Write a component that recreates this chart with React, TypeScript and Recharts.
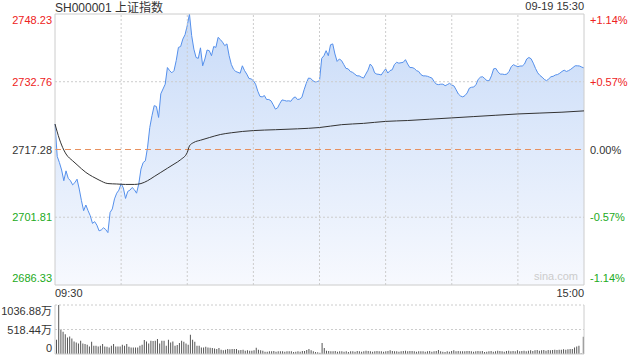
import React from 'react';
import { ComposedChart, Area, Line, XAxis, YAxis, ReferenceLine, BarChart, Bar } from 'recharts';

// minute prices 09:30 -> 15:00 (241 points)
const prices = [
  2723.10, 2715.70, 2714.30, 2712.60, 2710.15, 2712.40, 2710.70, 2710.15, 2709.20, 2709.70,
  2710.50, 2708.25, 2705.60, 2703.30, 2704.60, 2703.30, 2702.15, 2700.40, 2700.80, 2700.00,
  2698.70, 2698.90, 2699.40, 2699.00, 2698.30, 2702.90, 2703.70, 2706.00, 2707.30, 2708.00,
  2709.50, 2708.50, 2706.10, 2707.70, 2708.00, 2708.60, 2708.10, 2707.30, 2709.40, 2712.80,
  2714.30, 2714.70, 2717.80, 2722.30, 2725.00, 2727.30, 2727.10, 2724.60, 2730.00, 2731.10,
  2732.20, 2736.00, 2735.30, 2734.80, 2735.30, 2737.60, 2740.60, 2740.80, 2742.50, 2743.50,
  2745.60, 2748.23, 2743.30, 2740.20, 2738.30, 2738.10, 2740.50, 2736.40, 2737.95, 2740.00,
  2739.85, 2738.70, 2740.80, 2740.60, 2742.90, 2742.40, 2741.80, 2741.00, 2741.40, 2738.70,
  2736.70, 2735.60, 2735.10, 2734.90, 2734.70, 2736.40, 2735.30, 2734.50, 2733.50, 2733.40,
  2733.00, 2732.20, 2730.60, 2729.40, 2729.30, 2729.60, 2728.70, 2728.70, 2728.40, 2727.50,
  2726.50, 2726.80, 2727.80, 2728.60, 2728.50, 2728.35, 2728.40, 2728.30, 2729.00, 2729.30,
  2728.70, 2728.80, 2729.20, 2730.90, 2732.40, 2733.60, 2733.50, 2733.00, 2732.70, 2732.80,
  2733.00, 2738.10, 2738.70, 2739.85, 2738.70, 2741.20, 2741.40, 2739.10, 2737.40, 2737.95,
  2737.60, 2736.70, 2735.80, 2735.70, 2735.10, 2734.90, 2734.50, 2734.10, 2734.10, 2733.80,
  2733.60, 2734.50, 2735.40, 2736.80, 2736.20, 2734.80, 2734.50, 2734.45, 2734.30, 2735.05,
  2735.70, 2734.75, 2735.30, 2735.50, 2736.70, 2737.20, 2737.00, 2737.10, 2737.20, 2737.80,
  2736.80, 2736.00, 2736.00, 2735.80, 2735.30, 2735.10, 2734.40, 2734.10, 2734.10, 2734.00,
  2733.80, 2733.60, 2732.80, 2732.20, 2732.10, 2732.20, 2732.20, 2731.85, 2732.10, 2732.40,
  2732.00, 2731.80, 2730.90, 2729.95, 2729.50, 2729.30, 2729.60, 2730.20, 2731.30, 2731.50,
  2731.55, 2732.10, 2733.30, 2733.80, 2733.90, 2733.45, 2733.00, 2733.00, 2734.10, 2735.70,
  2735.80, 2735.00, 2734.50, 2734.50, 2734.40, 2734.50, 2735.10, 2736.20, 2736.65, 2736.40,
  2736.20, 2736.35, 2736.35, 2736.80, 2737.95, 2738.30, 2738.00, 2737.00, 2735.80, 2734.80,
  2734.20, 2733.80, 2733.30, 2733.00, 2733.40, 2733.90, 2734.00, 2734.30, 2734.40, 2734.70,
  2735.10, 2735.40, 2735.10, 2735.30, 2735.60, 2736.00, 2736.40, 2736.40, 2736.35, 2736.10,
  2735.90,
];

// average price line, read at a subset of minutes
const avgMinutes = [0, 2, 3, 5, 8, 10, 14, 17, 20, 24, 28, 32, 36, 39, 42, 45, 48, 51, 54, 57, 60, 61, 63, 66, 70, 75, 80, 85, 90, 100, 110, 120, 130, 140, 150, 160, 170, 180, 190, 200, 210, 220, 230, 240];
const avgPrices = [
  2723.10, 2719.67, 2718.30, 2716.25, 2714.70, 2713.80, 2712.05, 2711.10, 2710.30, 2709.50,
  2709.40, 2709.30, 2709.30, 2709.50, 2710.15, 2711.10, 2712.05, 2713.00, 2713.95, 2714.95,
  2716.60, 2718.10, 2718.90, 2719.40, 2720.00, 2720.70, 2721.10, 2721.40, 2721.60, 2721.80,
  2722.00, 2722.30, 2722.95, 2723.25, 2723.70, 2723.90, 2724.20, 2724.50, 2724.80, 2725.10,
  2725.40, 2725.60, 2725.80, 2726.10,
];

// volume per minute (万)
const volumes = [
  301, 1036.88, 525, 469, 420, 350, 371, 329, 266, 245,
  224, 280, 224, 210, 196, 161, 259, 175, 175, 161,
  175, 210, 161, 154, 140, 175, 210, 161, 161, 161,
  196, 175, 210, 154, 140, 140, 140, 140, 175, 196,
  294, 266, 224, 280, 273, 280, 315, 224, 280, 280,
  175, 301, 245, 266, 175, 189, 231, 280, 259, 224,
  196, 406, 301, 259, 175, 175, 140, 140, 154, 140,
  133, 126, 119, 105, 126, 91, 77, 91, 105, 98,
  105, 105, 105, 77, 84, 91, 70, 77, 70, 70,
  77, 133, 91, 77, 70, 49, 49, 56, 56, 63,
  49, 56, 56, 56, 49, 56, 56, 56, 42, 49,
  56, 49, 63, 63, 84, 105, 77, 56, 42, 35,
  28, 231, 126, 70, 63, 56, 56, 63, 49, 56,
  56, 49, 56, 42, 56, 56, 49, 63, 56, 49,
  56, 70, 63, 56, 49, 56, 63, 56, 56, 49,
  56, 63, 77, 63, 56, 56, 49, 56, 63, 70,
  56, 63, 63, 56, 49, 56, 56, 56, 49, 56,
  63, 49, 56, 63, 84, 56, 49, 42, 56, 49,
  63, 77, 56, 63, 56, 56, 56, 63, 63, 56,
  49, 56, 63, 56, 63, 42, 49, 56, 63, 49,
  56, 70, 63, 56, 49, 63, 70, 56, 63, 56,
  77, 56, 63, 70, 56, 70, 77, 63, 77, 84,
  70, 77, 84, 70, 84, 77, 84, 91, 84, 91,
  91, 98, 91, 98, 105, 105, 140, 161, 175, 14,
  364,
];

const priceTicks = [2686.33, 2701.81, 2717.28, 2732.76, 2748.23];
const pctLabels = ['-1.14%', '-0.57%', '0.00%', '+0.57%', '+1.14%'];
const volTicks = [0, 518.44, 1036.88];
const volLabels = ['0', '518.44万', '1036.88万'];
const timeTicks = [0, 240];
const timeLabels = ['09:30', '15:00'];
const gridMinutes = [30, 60, 90, 120, 150, 180, 210];

const RED = '#ee2222';
const GREEN = '#22aa22';
const GRID = '#cccccc';

const data = prices.map((p, i) => {
  const k = avgMinutes.indexOf(i);
  return { m: i, price: p, avg: k >= 0 ? avgPrices[k] : null };
});
const volData = volumes.map((v, i) => ({ m: i, vol: v }));

function tickColor(i: number) {
  if (i < 2) return GREEN;
  if (i > 2) return RED;
  return '#333';
}

function tickShift(i: number) {
  if (i === 4) return 10;
  if (i === 0) return -3;
  return 4;
}

// left price label and right percent label share one tick
function PriceTick(props: any) {
  const i = priceTicks.indexOf(props.payload.value);
  const y = props.y + tickShift(i);
  return (
    <g>
      <text x={52} y={y} textAnchor="end" fontSize={11} fill={tickColor(i)}>
        {priceTicks[i].toFixed(2)}
      </text>
      <text x={590} y={y} textAnchor="start" fontSize={11} fill={tickColor(i)}>
        {pctLabels[i]}
      </text>
    </g>
  );
}

function TimeTick(props: any) {
  const i = timeTicks.indexOf(props.payload.value);
  return (
    <text x={props.x} y={297} textAnchor={i === 0 ? 'start' : 'end'} fontSize={11} fill="#333">
      {timeLabels[i]}
    </text>
  );
}

function VolTick(props: any) {
  const i = volTicks.indexOf(props.payload.value);
  const dy = i === 2 ? 10 : i === 0 ? -2 : 4;
  return (
    <text x={52} y={props.y + dy} textAnchor="end" fontSize={11} fill="#333">
      {volLabels[i]}
    </text>
  );
}

export default function App() {
  return (
    <div
      style={{
        position: 'absolute',
        left: 0,
        top: 0,
        width: 640,
        height: 360,
        background: '#fff',
        fontFamily: '"Liberation Sans", Arial, "Noto Sans CJK SC", sans-serif',
        overflow: 'hidden',
      }}
    >
      <div style={{ position: 'absolute', left: 55, top: -2, fontSize: 12, color: '#333' }}>
        SH000001 上证指数
      </div>
      <div style={{ position: 'absolute', right: 56, top: 0, fontSize: 11, color: '#333' }}>09-19 15:30</div>

      <div style={{ position: 'absolute', left: 0, top: 0 }}>
        <ComposedChart width={640} height={300} data={data} margin={{ top: 14, right: 56, bottom: 0, left: 0 }}>
          <defs>
            <linearGradient id="priceFill" x1="0" y1="0" x2="0" y2="1">
              <stop offset="0%" stopColor="#c8dbf8" />
              <stop offset="100%" stopColor="#f7f9fe" />
            </linearGradient>
          </defs>
          <XAxis
            dataKey="m"
            type="number"
            domain={[0, 240]}
            ticks={timeTicks}
            interval={0}
            height={15}
            axisLine={false}
            tickLine={false}
            tick={<TimeTick />}
          />
          <YAxis
            type="number"
            domain={[2686.33, 2748.23]}
            ticks={priceTicks}
            interval={0}
            width={55}
            axisLine={false}
            tickLine={false}
            tick={<PriceTick />}
          />
          <Area
            type="linear"
            dataKey="price"
            stroke="#5590ec"
            strokeWidth={1}
            fill="url(#priceFill)"
            fillOpacity={1}
            dot={false}
            activeDot={false}
            isAnimationActive={false}
          />
          {gridMinutes.map((m) => (
            <ReferenceLine key={m} x={m} stroke={GRID} strokeDasharray="2 2" />
          ))}
          <ReferenceLine y={priceTicks[1]} stroke={GRID} strokeDasharray="2 2" />
          <ReferenceLine y={priceTicks[3]} stroke={GRID} strokeDasharray="2 2" />
          <ReferenceLine y={priceTicks[2]} stroke="#e8915f" strokeDasharray="6 4" />
          <ReferenceLine y={priceTicks[0]} stroke={GRID} />
          <ReferenceLine y={priceTicks[4]} stroke={GRID} />
          <ReferenceLine x={0} stroke={GRID} />
          <ReferenceLine x={240} stroke={GRID} />
          <Line
            type="monotone"
            dataKey="avg"
            stroke="#333"
            strokeWidth={1}
            dot={false}
            activeDot={false}
            connectNulls
            isAnimationActive={false}
          />
        </ComposedChart>
      </div>

      <div style={{ position: 'absolute', right: 62, top: 270, fontSize: 11, color: '#ccc' }}>sina.com</div>

      <div style={{ position: 'absolute', left: 0, top: 296 }}>
        <BarChart width={640} height={64} data={volData} margin={{ top: 9, right: 56, bottom: 6, left: 0 }}>
          <XAxis dataKey="m" type="number" domain={[-0.5, 240.5]} hide />
          <YAxis
            type="number"
            domain={[0, 1036.88]}
            ticks={volTicks}
            interval={0}
            width={55}
            axisLine={false}
            tickLine={false}
            tick={<VolTick />}
          />
          <ReferenceLine y={volTicks[2]} stroke={GRID} strokeDasharray="2 2" />
          <ReferenceLine y={volTicks[1]} stroke={GRID} strokeDasharray="2 2" />
          <ReferenceLine y={0} stroke={GRID} />
          <ReferenceLine x={-0.5} stroke={GRID} />
          <ReferenceLine x={240.5} stroke={GRID} />
          <Bar dataKey="vol" fill="#555" barSize={1} isAnimationActive={false} />
        </BarChart>
      </div>
    </div>
  );
}
